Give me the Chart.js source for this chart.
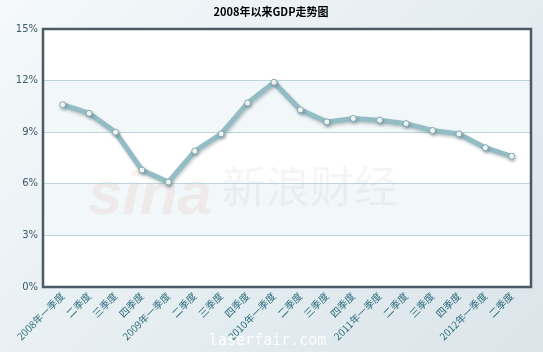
<!DOCTYPE html>
<html>
<head>
<meta charset="utf-8">
<script src="https://cdn.jsdelivr.net/npm/chart.js@4/dist/chart.umd.min.js"></script>
<style>
html,body{margin:0;padding:0;}
body{width:543px;height:352px;overflow:hidden;background:linear-gradient(135deg,#f5f9fb 0%,#e3ecf0 60%,#dbe5ea 100%);}
canvas{display:block;}
</style>
</head>
<body>
<canvas id="c" width="543" height="352"></canvas>
<script>
const chartTitle = "2008年以来GDP走势图";
const categories = ["2008年一季度","二季度","三季度","四季度","2009年一季度","二季度","三季度","四季度","2010年一季度","二季度","三季度","四季度","2011年一季度","二季度","三季度","四季度","2012年一季度","二季度"];
const gdpGrowth = [10.6,10.1,9.0,6.8,6.1,7.9,8.9,10.7,11.9,10.3,9.6,9.8,9.7,9.5,9.1,8.9,8.1,7.6];
const yTicks = [0,3,6,9,12,15];

const bgPlugin = {
  id:'bg',
  beforeDraw(chart){
    const {ctx, chartArea:a, scales:{y}} = chart;
    ctx.save();
    ctx.fillStyle = '#ffffff';
    ctx.fillRect(a.left, a.top, a.right-a.left, a.bottom-a.top);
    ctx.fillStyle = '#f2f7f9';
    for (let i=0;i<yTicks.length-1;i++){
      if (i%2===1){
        const y1 = y.getPixelForValue(yTicks[i+1]);
        const y0 = y.getPixelForValue(yTicks[i]);
        ctx.fillRect(a.left, y1, a.right-a.left, y0-y1);
      }
    }
    // watermark
    ctx.globalAlpha = 0.07;
    ctx.font = 'italic bold 62px "Liberation Sans", sans-serif';
    ctx.fillStyle = '#d04030';
    ctx.fillText('sina', 88, 214);
    ctx.globalAlpha = 0.10;
    ctx.font = '44px "Noto Sans CJK SC", sans-serif';
    ctx.fillStyle = '#8a9aa2';
    ctx.fillText('新浪财经', 222, 203);
    ctx.restore();
  },
  beforeDatasetsDraw(chart){
    const ctx = chart.ctx;
    ctx.save();
    ctx.shadowColor = 'rgba(80,100,110,0.35)';
    ctx.shadowBlur = 3;
    ctx.shadowOffsetX = 1;
    ctx.shadowOffsetY = 2;
  },
  afterDatasetsDraw(chart){
    chart.ctx.restore();
  },
  afterDraw(chart){
    const {ctx, chartArea:a} = chart;
    ctx.save();
    ctx.strokeStyle = '#4a5b66';
    ctx.lineWidth = 2.5;
    ctx.strokeRect(a.left, a.top, a.right-a.left, a.bottom-a.top);
    ctx.fillStyle = '#000';
    ctx.font = 'bold 11px "Noto Sans CJK SC", sans-serif';
    ctx.textAlign = 'center';
    ctx.textBaseline = 'middle';
    ctx.fillText(chartTitle, 271, 12);
    ctx.fillStyle = 'rgba(255,255,255,0.9)';
    ctx.font = '15px "DejaVu Sans Mono", monospace';
    ctx.textAlign = 'left';
    ctx.fillText('laserfair.com', 209, 341);
    ctx.restore();
  }
};

new Chart(document.getElementById('c'), {
  type:'line',
  data:{
    datasets:[{
      data: gdpGrowth.map((v,i)=>({x:i,y:v})),
      borderColor:'#93bcc4',
      borderWidth:5,
      tension:0,
      pointRadius:3,
      pointBackgroundColor:'#ffffff',
      pointBorderColor:'#7fa9b2',
      pointBorderWidth:1
    }]
  },
  options:{
    responsive:false,
    animation:false,
    layout:{padding:{top:29,right:12,left:0,bottom:0}},
    plugins:{legend:{display:false},tooltip:{enabled:false},title:{display:false}},
    scales:{
      x:{
        type:'linear',
        min:-0.745,
        max:17.73,
        afterBuildTicks(s){ s.ticks = categories.map((c,i)=>({value:i})); },
        afterFit(s){ s.height = 65; },
        grid:{display:false, drawTicks:false},
        border:{display:false},
        ticks:{
          autoSkip:false,
          maxRotation:45,
          minRotation:45,
          padding:3,
          color:'#2b6c7a',
          font:{size:10, family:'"Noto Sans CJK SC", "DejaVu Sans", sans-serif'},
          callback:(v)=>categories[v]
        }
      },
      y:{
        min:0,
        max:15,
        afterBuildTicks(s){ s.ticks = yTicks.map(v=>({value:v})); },
        afterFit(s){ s.width = 43; },
        grid:{color:'#bcd6dd', lineWidth:1, drawTicks:false},
        border:{display:false},
        ticks:{
          padding:5,
          color:'#3a5a6a',
          font:{size:10, family:'"DejaVu Sans", sans-serif'},
          callback:(v)=>v+'%'
        }
      }
    }
  },
  plugins:[bgPlugin]
});
</script>
</body>
</html>
